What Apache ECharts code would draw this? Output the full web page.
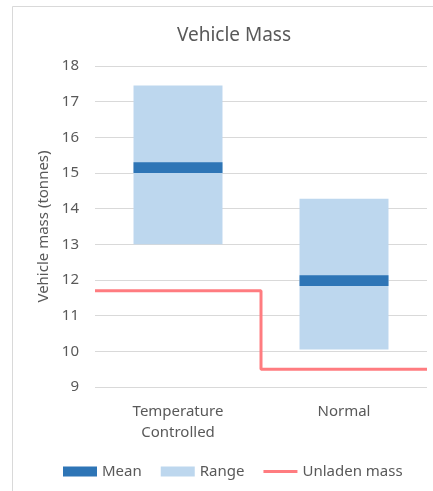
<!DOCTYPE html>
<html>
<head>
<meta charset="utf-8">
<script src="https://cdn.jsdelivr.net/npm/echarts@6/dist/echarts.min.js"></script>
<style>
  html, body { margin: 0; padding: 0; background: #fff; }
  #chart { width: 433px; height: 491px; }
</style>
</head>
<body>
<div id="chart"></div>
<script>
// Vehicle mass by vehicle type
const categories = ['Temperature\nControlled', 'Normal'];
const rangeMin = [13.0, 10.05];
const rangeMax = [17.45, 14.28];
const meanValues = [15.15, 11.98];
const unladenMass = [11.7, 9.5];
const yTicks = { min: 9, max: 18, interval: 1 };

const TEXT = '#595959';
const FONT = 'Noto Sans';
const MEAN_HALF = 0.15; // half-thickness of the mean band, tonnes

// Transparent base + visible span gives a floating range bar
const rangeSpan = rangeMax.map((v, i) => +(v - rangeMin[i]).toFixed(3));

// Step outline: each category holds its unladen mass across its full width
const stepPoints = [];
unladenMass.forEach((v, i) => { stepPoints.push([i, v]); stepPoints.push([i + 1, v]); });

const chart = echarts.init(document.getElementById('chart'), null, { renderer: 'canvas' });

chart.setOption({
  animation: false,
  backgroundColor: '#fff',
  textStyle: { fontFamily: FONT },
  graphic: [{
    type: 'rect', silent: true, z: -1,
    shape: { x: 12.5, y: 6.5, width: 600, height: 600 },
    style: { fill: 'none', stroke: '#D9D9D9', lineWidth: 1 }
  }],
  title: {
    text: 'Vehicle Mass',
    left: 229, top: 21, textAlign: 'center',
    textStyle: { color: TEXT, fontSize: 19, fontWeight: 'normal', fontFamily: FONT }
  },
  legend: {
    left: 63, top: 464, padding: 0,
    itemWidth: 34, itemHeight: 10, itemGap: 19,
    textStyle: { color: TEXT, fontSize: 15, fontFamily: FONT },
    data: [
      { name: 'Mean', icon: 'rect' },
      { name: 'Range', icon: 'rect' },
      { name: 'Unladen mass', icon: 'path://M0,0H34V3H0Z' }
    ]
  },
  grid: { left: 95, right: 6, top: 66, bottom: 104, containLabel: false },
  xAxis: [{
    type: 'category',
    data: categories,
    axisLine: { show: false },
    axisTick: { show: false },
    axisLabel: { color: TEXT, fontSize: 15, lineHeight: 21, margin: 14, fontFamily: FONT }
  }, {
    type: 'value', min: 0, max: categories.length, show: false
  }],
  yAxis: {
    type: 'value',
    min: yTicks.min, max: yTicks.max, interval: yTicks.interval,
    name: 'Vehicle mass (tonnes)',
    nameLocation: 'middle', nameRotate: 90, nameGap: 42,
    nameTextStyle: { color: TEXT, fontSize: 15, fontFamily: FONT },
    axisLine: { show: false },
    axisTick: { show: false },
    axisLabel: { color: TEXT, fontSize: 15, margin: 16, fontFamily: FONT },
    splitLine: { lineStyle: { color: '#D9D9D9', width: 1 } }
  },
  series: [{
    name: 'base', type: 'bar', stack: 'range', barWidth: '53.6%',
    data: rangeMin, silent: true,
    itemStyle: { color: 'rgba(0,0,0,0)' }
  }, {
    name: 'Range', type: 'bar', stack: 'range', barWidth: '53.6%',
    data: rangeSpan,
    itemStyle: { color: '#BDD7EE' }
  }, {
    name: 'Mean', type: 'custom',
    data: meanValues.map((v, i) => [i, v]),
    itemStyle: { color: '#2E75B6' },
    z: 5,
    renderItem: function (params, api) {
      const x = api.value(0), m = api.value(1);
      const top = api.coord([x, m + MEAN_HALF]);
      const bot = api.coord([x, m - MEAN_HALF]);
      const w = api.size([1, 0])[0] * 0.536;
      return {
        type: 'rect',
        shape: { x: top[0] - w / 2, y: top[1], width: w, height: bot[1] - top[1] },
        style: { fill: '#2E75B6' }
      };
    }
  }, {
    name: 'Unladen mass', type: 'line', xAxisIndex: 1,
    data: stepPoints, symbol: 'none',
    lineStyle: { color: '#FF7C80', width: 3 },
    itemStyle: { color: '#FF7C80' },
    z: 4
  }]
});
</script>
</body>
</html>
